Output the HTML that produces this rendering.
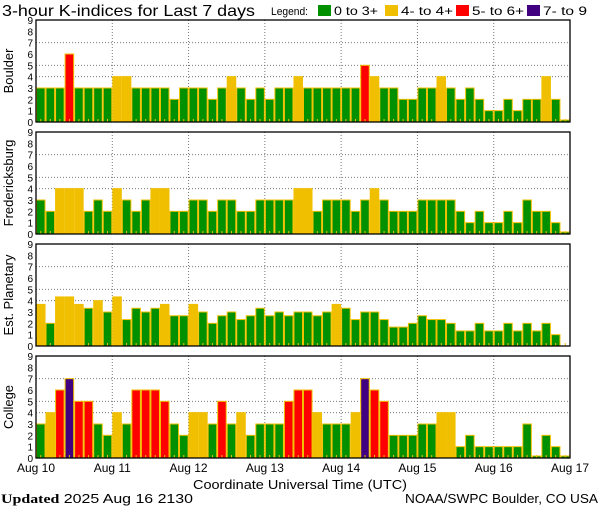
<!DOCTYPE html>
<html><head><meta charset="utf-8"><style>
body{margin:0;background:#fff;width:600px;height:510px;overflow:hidden}
svg{display:block;font-family:"Liberation Sans",sans-serif}
</style></head><body>
<svg id="c" width="600" height="510"></svg>
<script>
const days = ["Aug 10","Aug 11","Aug 12","Aug 13","Aug 14","Aug 15","Aug 16","Aug 17"];
const yTicks = [0,1,2,3,4,5,6,7,8,9];
const stations = ["Boulder","Fredericksburg","Est. Planetary","College"];
const boulder = [3,3,3,6,3,3,3,3, 4,4,3,3,3,3,2,3, 3,3,2,3,4,3,2,3, 2,3,3,4,3,3,3,3, 3,3,5,4,3,3,2,2, 3,3,4,3,2,3,2,1, 1,2,1,2,2,4,2,0];
const fredericksburg = [3,2,4,4,4,2,3,2, 4,3,2,3,4,4,2,2, 3,3,2,3,3,2,2,3, 3,3,3,4,4,2,3,3, 3,2,3,4,3,2,2,2, 3,3,3,3,2,1,2,1, 1,2,1,3,2,2,1,0];
const planetary = [3.67,2,4.33,4.33,3.67,3.33,4,3, 4.33,2.33,3.33,3,3.33,3.67,2.67,2.67, 3.67,3,2,2.67,3,2.33,2.67,3.33, 2.67,3,2.67,3,3,2.67,3,3.67, 3.33,2.33,3,3,2.33,1.67,1.67,2, 2.67,2.33,2.33,2,1.33,1.33,2,1.33, 1.33,2,1.33,2,1.33,2,1,null];
const college = [3,4,6,7,5,5,3,2, 4,3,6,6,6,5,3,2, 4,4,3,5,3,4,2,3, 3,3,5,6,6,4,3,3, 3,4,7,6,5,2,2,2, 3,3,4,4,1,2,1,1, 1,1,1,3,0,2,1,0];
const series = [boulder,fredericksburg,planetary,college];

const NS="http://www.w3.org/2000/svg";
const svg=document.getElementById('c');
function mk(t,a,p){const e=document.createElementNS(NS,t);for(const k in a)e.setAttribute(k,a[k]);(p||svg).appendChild(e);return e;}
const X0=36,X1=570,N=56;
const bw=(X1-X0)/N;
const xScale=i=>X0+i*bw;
const tops=[20,132,244,356],PH=102;
const yScale=(v,top)=>top+PH-v*PH/9;
function color(v){return v>=6.67?"#400080":v>=4.67?"#ff0000":v>=3.67?"#f0c000":"#009000";}

let t=mk('text',{x:2,y:16,'font-size':16,fill:'#000',textLength:253,lengthAdjust:'spacingAndGlyphs'});t.textContent="3-hour K-indices for Last 7 days";

let lg=mk('text',{x:271,y:15,'font-size':11,fill:'#000',textLength:37,lengthAdjust:'spacingAndGlyphs'});lg.textContent="Legend:";

const legItems=[["0 to 3+","#009000",318,44],["4- to 4+","#f0c000",385,52],["5- to 6+","#ff0000",456,52],["7- to 9","#400080",527,44]];
legItems.forEach(([lab,c,x,w])=>{
 const g=mk('g',{});
 
 mk('rect',{x:x,y:5,width:13,height:11,fill:c},g);
 const tt=mk('text',{x:x+16,y:15,'font-size':12,fill:'#000',textLength:w,lengthAdjust:'spacingAndGlyphs'},g);tt.textContent=lab;
});

stations.forEach((name,p)=>{
 const top=tops[p],data=series[p];
 const g=mk('g',{});
 
 
 [4,5,7].forEach(v=>{const l=mk('line',{x1:X0,x2:X1,y1:yScale(v,top),y2:yScale(v,top),stroke:'#777','stroke-dasharray':'1,2'},g);
  });
 for(let d=1;d<7;d++){const x=xScale(d*8);const l=mk('line',{x1:x,x2:x,y1:top,y2:top+PH,stroke:'#777','stroke-dasharray':'1,2'},g);
  }
 data.forEach((v,i)=>{
  const x=xScale(i);
  if(v!==null){
   const h=Math.max(v*PH/9,2);
   const r=mk('rect',{x:x+0.5,y:top+PH-h,width:bw-1,height:h,fill:color(v),stroke:'#f0c000','stroke-width':1},g);
   
  }
  mk('rect',{x:x+bw/2-0.5,y:top+PH-3,width:1,height:3,fill:'#f0c000'},g);
 });
 const fr=mk('rect',{x:X0,y:top,width:X1-X0,height:PH,fill:'none',stroke:'#000','stroke-width':1.3},g);
 
 yTicks.forEach(v=>{const tt=mk('text',{x:33,y:yScale(v,top)+4,'font-size':10,'text-anchor':'end',fill:'#000'},g);tt.textContent=v;
  });
 const yl=mk('text',{x:0,y:0,'font-size':13,'text-anchor':'middle',fill:'#000',transform:`translate(13,${top+PH/2}) rotate(-90)`},g);
 yl.textContent=name;
 
});
days.forEach((d,i)=>{const tt=mk('text',{x:xScale(i*8),y:472,'font-size':12,'text-anchor':'middle',fill:'#000'});tt.textContent=d;
 });
let xt=mk('text',{x:193,y:489,'font-size':13,fill:'#000',textLength:214,lengthAdjust:'spacingAndGlyphs'});xt.textContent="Coordinate Universal Time (UTC)";

let up=mk('text',{x:1,y:503,'font-size':13,fill:'#000',textLength:192,lengthAdjust:'spacingAndGlyphs'});
up.innerHTML='<tspan font-weight="bold" font-family="Liberation Serif">Updated</tspan> 2025 Aug 16 2130';

let src=mk('text',{x:405,y:503,'font-size':13,fill:'#000',textLength:193,lengthAdjust:'spacingAndGlyphs'});src.textContent="NOAA/SWPC Boulder, CO USA";

</script>
</body></html>
